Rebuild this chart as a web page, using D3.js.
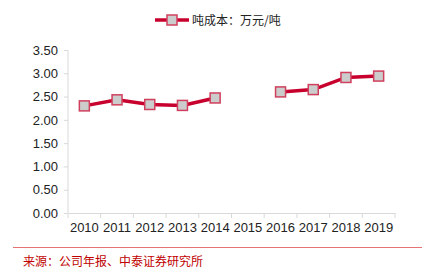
<!DOCTYPE html>
<html><head><meta charset="utf-8">
<script src="https://cdn.jsdelivr.net/npm/d3@7"></script>
<style>body{margin:0;background:#fff;}svg{display:block;}</style>
</head><body>
<svg id="c" width="428" height="272"></svg>
<script>
const years = ["2010","2011","2012","2013","2014","2015","2016","2017","2018","2019"];
const costs = [2.30, 2.43, 2.33, 2.31, 2.47, null, 2.60, 2.65, 2.91, 2.94];
const yTicks = [0,0.5,1,1.5,2,2.5,3,3.5];
const seriesName = "吨成本：万元/吨";
const sourceText = "来源：公司年报、中泰证券研究所";

const svg = d3.select("#c");
const lineColor = "#c8002d", markerStroke = "#d0405e", markerFill = "#cccccc";
const x = d3.scaleBand().domain(years).range([68, 395]);
const y = d3.scaleLinear().domain([0, 3.5]).range([213, 50]);

// y axis
const ya = svg.append("g").attr("transform","translate(68,0)")
  .call(d3.axisLeft(y).tickValues(yTicks).tickFormat(d3.format(".2f")).tickSize(4).tickPadding(6));
ya.select(".domain").attr("stroke","#d9d9d9").attr("d","M0,50V213");
ya.selectAll(".tick line").attr("stroke","#d9d9d9");
ya.selectAll("text").attr("font-family","Liberation Sans, Arial").attr("font-size",13).attr("fill","#222");

// x axis
const xa = svg.append("g").attr("transform","translate(0,213)")
  .call(d3.axisBottom(x).tickSize(0).tickPadding(10));
xa.select(".domain").attr("stroke","#d9d9d9");
xa.selectAll("text").attr("font-family","Liberation Sans, Arial").attr("font-size",13).attr("fill","#222");
// ticks between categories
const edges = years.map(d => x(d)).concat([x.range()[1]]);
svg.append("g").selectAll("line").data(edges).join("line")
  .attr("x1", d=>d).attr("x2", d=>d).attr("y1",213).attr("y2",218).attr("stroke","#d9d9d9");

// line
const data = years.map((d,i)=>({year:d, v:costs[i]}));
const line = d3.line().defined(d=>d.v!=null).x(d=>x(d.year)+x.bandwidth()/2).y(d=>y(d.v));
svg.append("path").datum(data).attr("d",line).attr("fill","none")
  .attr("stroke",lineColor).attr("stroke-width",3.5);
svg.append("g").selectAll("rect").data(data.filter(d=>d.v!=null)).join("rect")
  .attr("x",d=>x(d.year)+x.bandwidth()/2-5).attr("y",d=>y(d.v)-5)
  .attr("width",10).attr("height",10).attr("fill",markerFill)
  .attr("stroke",markerStroke).attr("stroke-width",1.5);

// legend
svg.append("line").attr("x1",155).attr("x2",189).attr("y1",20).attr("y2",20)
  .attr("stroke",lineColor).attr("stroke-width",3.5);
svg.append("rect").attr("x",167).attr("y",15).attr("width",10).attr("height",10)
  .attr("fill",markerFill).attr("stroke",markerStroke).attr("stroke-width",1.5);
svg.append("text").attr("x",192).attr("y",24.5).text(seriesName)
  .attr("font-family","Noto Sans CJK SC").attr("font-size",12).attr("fill","#222");

// source
svg.append("line").attr("x1",13).attr("x2",422).attr("y1",247.5).attr("y2",247.5)
  .attr("stroke","#e57373").attr("stroke-width",1);
svg.append("text").attr("x",23).attr("y",266).text(sourceText)
  .attr("font-family","Noto Sans CJK SC").attr("font-size",12).attr("fill","#c00000");
</script>
</body></html>
